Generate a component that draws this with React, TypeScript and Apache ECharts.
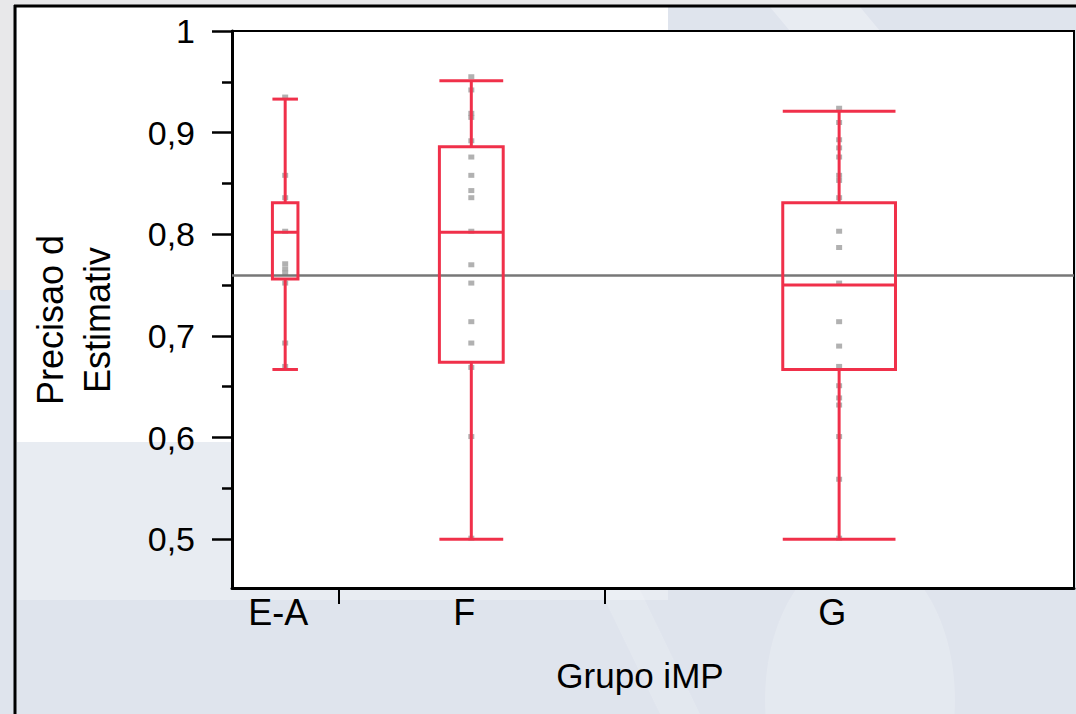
import React, { useEffect, useRef } from "react";
import * as echarts from "echarts";

// ---- data ----
const groups = ["E-A", "F", "G"];
const groupN = [12, 30, 53];
const whiskerLow = [0.667, 0.5, 0.5];
const q1 = [0.756, 0.674, 0.667];
const median = [0.802, 0.802, 0.75];
const q3 = [0.831, 0.886, 0.831];
const whiskerHigh = [0.933, 0.951, 0.921];
const overallMean = 0.7615;
const pointsEA = [0.935, 0.858, 0.836, 0.803, 0.771, 0.766, 0.762, 0.752, 0.693, 0.67];
const pointsF = [0.955, 0.942, 0.919, 0.915, 0.892, 0.876, 0.858, 0.843, 0.836, 0.803, 0.77, 0.752, 0.714, 0.693, 0.669, 0.601, 0.501];
const pointsG = [0.924, 0.91, 0.893, 0.885, 0.876, 0.858, 0.853, 0.836, 0.803, 0.787, 0.752, 0.714, 0.69, 0.67, 0.651, 0.639, 0.632, 0.601, 0.559, 0.501];
const yTicks = [0.5, 0.6, 0.7, 0.8, 0.9, 1.0];
const yMinorTicks = [0.55, 0.65, 0.75, 0.85, 0.95];
const xTitle = "Grupo iMP";
const yTitle = "Precisao d\nEstimativ";

const RED = "#f0304a";
const FONT = "'Liberation Sans', Arial, sans-serif";
const BOX_FRAC = 0.24;

export default function App() {
  const ref = useRef<HTMLDivElement>(null);
  useEffect(() => {
    document.body.style.margin = "0";
    const chart = echarts.init(ref.current!, null, { renderer: "svg" });
    const total = groupN.reduce((a, b) => a + b, 0);
    const centers: number[] = [];
    const bounds: number[] = [];
    let acc = 0;
    groupN.forEach((n, i) => {
      centers.push(acc + n / 2);
      acc += n;
      if (i < groupN.length - 1) bounds.push(acc);
    });
    const allPoints = [pointsEA, pointsF, pointsG];
    const scatterData: number[][] = [];
    allPoints.forEach((arr, i) => arr.forEach((v) => scatterData.push([centers[i], v])));
    const boxData = groups.map((_, i) => [centers[i], whiskerLow[i], q1[i], median[i], q3[i], whiskerHigh[i], groupN[i]]);

    const bg = (el: any) => ({ ...el, z: -100, silent: true });

    const option: any = {
      animation: false,
      backgroundColor: "#dfe4ed",
      graphic: [
        bg({ type: "rect", shape: { x: 0, y: 0, width: 1076, height: 6 }, style: { fill: "#e8e8ea" } }),
        bg({ type: "rect", shape: { x: 0, y: 0, width: 15, height: 290 }, style: { fill: "#e8e8ea" } }),
        bg({ type: "ellipse", shape: { cx: 860, cy: 700, rx: 95, ry: 150 }, style: { fill: "rgba(255,255,255,0.18)" } }),
        bg({ type: "polygon", shape: { points: [[600, 590], [640, 590], [700, 714], [660, 714]] }, style: { fill: "rgba(255,255,255,0.15)" } }),
        bg({ type: "polygon", shape: { points: [[770, 7], [860, 7], [880, 31], [790, 31]] }, style: { fill: "rgba(255,255,255,0.3)" } }),
        bg({ type: "rect", shape: { x: 17, y: 442, width: 651, height: 158 }, style: { fill: "rgba(255,255,255,0.3)" } }),
        bg({ type: "rect", shape: { x: 17, y: 7, width: 651, height: 435 }, style: { fill: "#ffffff" } }),
        bg({ type: "line", shape: { x1: 15, y1: 5, x2: 15, y2: 714 }, style: { stroke: "#000", lineWidth: 3 } }),
        bg({ type: "line", shape: { x1: 14, y1: 6, x2: 1076, y2: 6 }, style: { stroke: "#000", lineWidth: 3 } }),
      ],
      grid: {
        left: 232,
        top: 31,
        width: 842,
        height: 557,
        show: true,
        backgroundColor: "#ffffff",
        borderColor: "#000",
        borderWidth: 2,
      },
      xAxis: {
        type: "value",
        min: 0,
        max: total,
        name: xTitle,
        nameLocation: "middle",
        nameGap: 70,
        nameTextStyle: { fontFamily: FONT, fontSize: 35, color: "#000", padding: [0, 26, 0, 0] },
        splitLine: { show: false },
        axisLine: { show: true, onZero: false, lineStyle: { color: "#000", width: 3 } },
        axisTick: { show: true, length: 16, customValues: bounds, lineStyle: { color: "#000", width: 2 } },
        axisLabel: {
          show: true,
          customValues: centers,
          margin: 6,
          fontFamily: FONT,
          fontSize: 36,
          color: "#000",
          padding: [0, 14, 0, 0],
          formatter: (v: number) => {
            const idx = centers.findIndex((c) => Math.abs(c - v) < 1e-6);
            return idx >= 0 ? groups[idx] : "";
          },
        },
      },
      yAxis: [
        {
          type: "value",
          min: 0.452,
          max: 1,
          name: yTitle,
          nameLocation: "middle",
          nameRotate: 90,
          nameGap: 111,
          nameTextStyle: { fontFamily: FONT, fontSize: 36, lineHeight: 47, color: "#000", padding: [0, 21, 0, 0] },
          splitLine: { show: false },
          axisLine: { show: true, onZero: false, lineStyle: { color: "#000", width: 3 } },
          axisTick: { show: true, length: 20, customValues: yTicks, lineStyle: { color: "#000", width: 2.5 } },
          axisLabel: {
            show: true,
            customValues: yTicks,
            margin: 37,
            fontFamily: FONT,
            fontSize: 34,
            color: "#000",
            formatter: (v: number) => (Math.abs(v - 1) < 1e-9 ? "1" : v.toFixed(1).replace(".", ",")),
          },
        },
        {
          type: "value",
          min: 0.452,
          max: 1,
          position: "left",
          splitLine: { show: false },
          axisLine: { show: false },
          axisTick: { show: true, length: 10, customValues: yMinorTicks, lineStyle: { color: "#000", width: 2.5 } },
          axisLabel: { show: false },
        },
      ],
      series: [
        {
          type: "scatter",
          data: scatterData,
          symbol: "rect",
          symbolSize: [6, 5],
          itemStyle: { color: "#9e9e9e" },
          z: 2,
          markLine: {
            silent: true,
            symbol: "none",
            label: { show: false },
            lineStyle: { color: "#777777", width: 2.5, type: "solid" },
            data: [{ yAxis: overallMean }],
          },
        },
        {
          type: "custom",
          data: boxData,
          encode: { x: 0, y: [1, 2, 3, 4, 5] },
          z: 5,
          renderItem: (params: any, api: any) => {
            const c = api.value(0);
            const lo = api.value(1);
            const a = api.value(2);
            const m = api.value(3);
            const b = api.value(4);
            const hi = api.value(5);
            const n = api.value(6);
            const hw = (n * BOX_FRAC) / 2;
            const [xl, yb] = api.coord([c - hw, b]);
            const [xr, ya] = api.coord([c + hw, a]);
            const [xc, ym] = api.coord([c, m]);
            const yhi = api.coord([c, hi])[1];
            const ylo = api.coord([c, lo])[1];
            const ls = { stroke: RED, lineWidth: 3 };
            return {
              type: "group",
              children: [
                { type: "line", shape: { x1: xc, y1: yhi, x2: xc, y2: yb }, style: ls },
                { type: "line", shape: { x1: xc, y1: ya, x2: xc, y2: ylo }, style: ls },
                { type: "line", shape: { x1: xl, y1: yhi, x2: xr, y2: yhi }, style: ls },
                { type: "line", shape: { x1: xl, y1: ylo, x2: xr, y2: ylo }, style: ls },
                { type: "rect", shape: { x: xl, y: yb, width: xr - xl, height: ya - yb }, style: { ...ls, fill: "none" } },
                { type: "line", shape: { x1: xl, y1: ym, x2: xr, y2: ym }, style: ls },
              ],
            };
          },
        },
      ],
    };
    chart.setOption(option);
    return () => chart.dispose();
  }, []);
  return <div ref={ref} style={{ width: 1076, height: 714 }} />;
}
